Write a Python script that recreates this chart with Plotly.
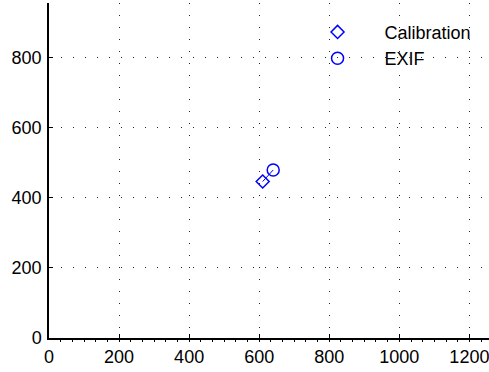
import plotly.graph_objects as go

# data
cal_x = [610]
cal_y = [447]
exif_x = [640]
exif_y = [480]
x_ticks = [0, 200, 400, 600, 800, 1000, 1200]
y_ticks = [0, 200, 400, 600, 800]

blue = "rgb(0,0,255)"
font = dict(family="Liberation Sans, Arial, sans-serif", size=18, color="black")

fig = go.Figure()
fig.add_trace(go.Scatter(x=cal_x + exif_x, y=cal_y + exif_y, mode="lines",
                         line=dict(color=blue, width=1), showlegend=False, hoverinfo="skip"))
fig.add_trace(go.Scatter(x=cal_x, y=cal_y, mode="markers", name="Calibration",
                         marker=dict(symbol="diamond-open", size=10, color=blue,
                                     line=dict(color=blue, width=1.5))))
fig.add_trace(go.Scatter(x=exif_x, y=exif_y, mode="markers", name="EXIF",
                         marker=dict(symbol="circle-open", size=12, color=blue,
                                     line=dict(color=blue, width=1.5))))

grid = dict(showgrid=True, gridcolor="rgba(0,0,0,0.85)", griddash="1px,11px", gridwidth=1)
fig.update_xaxes(range=[0, 1256], tickvals=x_ticks, ticktext=[str(v) for v in x_ticks],
                 ticks="inside", ticklen=4, tickcolor="black", tickwidth=1,
                 showline=True, linecolor="black", linewidth=1.5, zeroline=False,
                 tickfont=font, automargin=False, ticklabelstandoff=2,
                 ticklabeloverflow="allow",
                 minor=dict(ticks="outside", ticklen=2, tickcolor="black", dtick=200/6,
                            tick0=0, showgrid=False),
                 **grid)
fig.update_yaxes(range=[0, 957], tickvals=y_ticks, ticktext=[str(v) for v in y_ticks],
                 ticks="inside", ticklen=4, tickcolor="black", tickwidth=1,
                 showline=True, linecolor="black", linewidth=1.5, zeroline=False,
                 tickfont=font, ticklabelstandoff=2, automargin=False,
                 ticklabeloverflow="allow",
                 **grid)
fig.update_layout(
    width=489, height=372,
    margin=dict(l=49, r=0, t=3, b=34, autoexpand=False),
    paper_bgcolor="white", plot_bgcolor="white",
    font=font,
    showlegend=True,
    legend=dict(x=0.549, y=0.968, xanchor="left", yanchor="top",
                bgcolor="rgba(0,0,0,0)", borderwidth=0,
                font=font, itemwidth=84, tracegroupgap=0),
)
fig.write_html("out.html", config={"displayModeBar": False},
               post_script="document.body.style.margin='0';")
